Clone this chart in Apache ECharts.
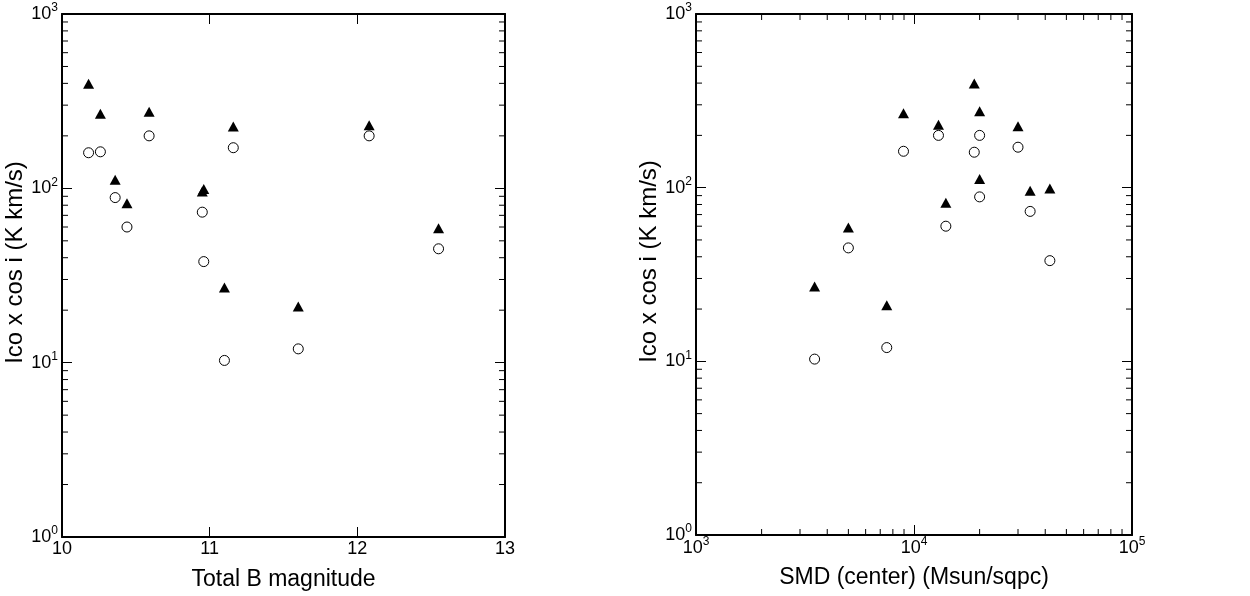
<!DOCTYPE html>
<html>
<head>
<meta charset="utf-8">
<script src="https://cdn.jsdelivr.net/npm/echarts@6/dist/echarts.min.js"></script>
<style>html,body{margin:0;padding:0;background:#fff;}#c{width:1250px;height:596px;}</style>
</head>
<body>
<div id="c"></div>
<script>
// Data per galaxy
var bMag      = [10.18, 10.26, 10.36, 10.44, 10.59, 10.95, 10.96, 11.16, 11.10, 12.08, 12.55, 11.60];
var smdCenter = [18900, 8950, 20000, 14000, 20000, 34100, 42000, 30000, 3500, 12950, 5000, 7500];
var icoOpen   = [160, 162, 88.5, 60, 200, 73, 38, 171, 10.3, 200, 45, 12];
var icoFilled = [398, 268, 112, 82, 275, 96, 99, 226, 27, 230, 59, 21];
var yMinorTicks = [2,3,4,5,6,7,8,9,20,30,40,50,60,70,80,90,200,300,400,500,600,700,800,900];
var xMinorTicksSMD = [2000,3000,4000,5000,6000,7000,8000,9000,20000,30000,40000,50000,60000,70000,80000,90000];

var FONT = "'Liberation Sans', Arial, Helvetica, sans-serif";
var chart = echarts.init(document.getElementById('c'), null, {renderer: 'canvas'});

function supLabel(v) {
  var e = Math.round(Math.log10(v));
  return '{b|10}{s|' + e + '}';
}
var richSup = {
  b: {fontSize: 18, lineHeight: 24, fontFamily: FONT, color: '#000'},
  s: {fontSize: 12, lineHeight: 12, verticalAlign: 'top', fontFamily: FONT, color: '#000'}
};
var lineStyle = {color: '#000', width: 2};

function frameAxis(base) {
  return Object.assign({
    axisLine: {show: true, onZero: false, lineStyle: lineStyle},
    axisTick: {show: true, inside: true, length: 10, lineStyle: {color: '#000', width: 1}},
    splitLine: {show: false},
    axisLabel: {show: false}
  }, base);
}

function zip(a, b) { return a.map(function (v, i) { return [v, b[i]]; }); }

var open = {color: '#fff', borderColor: '#000', borderWidth: 1, opacity: 1};
var filled = {color: '#000', opacity: 1};

function yMinorSeries(xi, yi, x0, x1) {
  return {
    type: 'custom', xAxisIndex: xi, yAxisIndex: yi, silent: true, clip: false, z: 10,
    data: yMinorTicks.map(function (v) { return [x0, v]; }),
    renderItem: function (params, api) {
      var v = api.value(1);
      var a = api.coord([x0, v]), b = api.coord([x1, v]);
      return {type: 'group', children: [
        {type: 'line', shape: {x1: a[0], y1: a[1], x2: a[0] + 6, y2: a[1]}, style: {stroke: '#000', lineWidth: 1}},
        {type: 'line', shape: {x1: b[0], y1: b[1], x2: b[0] - 6, y2: b[1]}, style: {stroke: '#000', lineWidth: 1}}
      ]};
    }
  };
}

var option = {
  animation: false,
  backgroundColor: '#fff',
  textStyle: {fontFamily: FONT},
  grid: [
    {left: 62, top: 14, width: 443, height: 525, containLabel: false},
    {left: 696, top: 14, width: 436, height: 521, containLabel: false}
  ],
  xAxis: [
    frameAxis({type: 'value', gridIndex: 0, position: 'bottom', min: 10, max: 13, interval: 1,
      axisLabel: {show: true, fontSize: 18, color: '#000', fontFamily: FONT, margin: 3, showMinLabel: true, showMaxLabel: true},
      name: 'Total B magnitude', nameLocation: 'middle', nameGap: 31,
      nameTextStyle: {fontSize: 23, color: '#000', fontFamily: FONT}}),
    frameAxis({type: 'value', gridIndex: 0, position: 'top', min: 10, max: 13, interval: 1}),
    frameAxis({type: 'log', logBase: 10, gridIndex: 1, position: 'bottom', min: 1000, max: 100000,
      axisLabel: {show: true, fontSize: 18, formatter: supLabel, rich: richSup, margin: 1, showMinLabel: true, showMaxLabel: true},
      name: 'SMD (center) (Msun/sqpc)', nameLocation: 'middle', nameGap: 31,
      nameTextStyle: {fontSize: 23, color: '#000', fontFamily: FONT}}),
    frameAxis({type: 'log', logBase: 10, gridIndex: 1, position: 'top', min: 1000, max: 100000})
  ],
  yAxis: [
    frameAxis({type: 'log', logBase: 10, gridIndex: 0, position: 'left', min: 1, max: 1000,
      axisLabel: {show: true, fontSize: 18, formatter: supLabel, rich: richSup, margin: 4, showMinLabel: true, showMaxLabel: true},
      name: 'Ico x cos i (K km/s)', nameLocation: 'middle', nameGap: 33,
      nameTextStyle: {fontSize: 24, color: '#000', fontFamily: FONT, padding: [0, 0, 0, 26]}}),
    frameAxis({type: 'log', logBase: 10, gridIndex: 0, position: 'right', min: 1, max: 1000}),
    frameAxis({type: 'log', logBase: 10, gridIndex: 1, position: 'left', min: 1, max: 1000,
      axisLabel: {show: true, fontSize: 18, formatter: supLabel, rich: richSup, margin: 4, showMinLabel: true, showMaxLabel: true},
      name: 'Ico x cos i (K km/s)', nameLocation: 'middle', nameGap: 33,
      nameTextStyle: {fontSize: 24, color: '#000', fontFamily: FONT, padding: [0, 0, 0, 26]}}),
    frameAxis({type: 'log', logBase: 10, gridIndex: 1, position: 'right', min: 1, max: 1000})
  ],
  series: [
    {type: 'scatter', xAxisIndex: 0, yAxisIndex: 0, symbol: 'circle', symbolSize: 10, itemStyle: open, data: zip(bMag, icoOpen), z: 5},
    {type: 'scatter', xAxisIndex: 0, yAxisIndex: 0, symbol: 'triangle', symbolSize: [11, 10], itemStyle: filled, data: zip(bMag, icoFilled), z: 5},
    {type: 'scatter', xAxisIndex: 2, yAxisIndex: 2, symbol: 'circle', symbolSize: 10, itemStyle: open, data: zip(smdCenter, icoOpen), z: 5},
    {type: 'scatter', xAxisIndex: 2, yAxisIndex: 2, symbol: 'triangle', symbolSize: [11, 10], itemStyle: filled, data: zip(smdCenter, icoFilled), z: 5},
    yMinorSeries(0, 0, 10, 13),
    yMinorSeries(2, 2, 1000, 100000),
    {
      type: 'custom', xAxisIndex: 2, yAxisIndex: 2, silent: true, clip: false, z: 10,
      data: xMinorTicksSMD.map(function (v) { return [v, 1]; }),
      renderItem: function (params, api) {
        var v = api.value(0);
        var a = api.coord([v, 1]), b = api.coord([v, 1000]);
        return {type: 'group', children: [
          {type: 'line', shape: {x1: a[0], y1: a[1], x2: a[0], y2: a[1] - 6}, style: {stroke: '#000', lineWidth: 1}},
          {type: 'line', shape: {x1: b[0], y1: b[1], x2: b[0], y2: b[1] + 6}, style: {stroke: '#000', lineWidth: 1}}
        ]};
      }
    }
  ]
};
chart.setOption(option);
</script>
</body>
</html>
